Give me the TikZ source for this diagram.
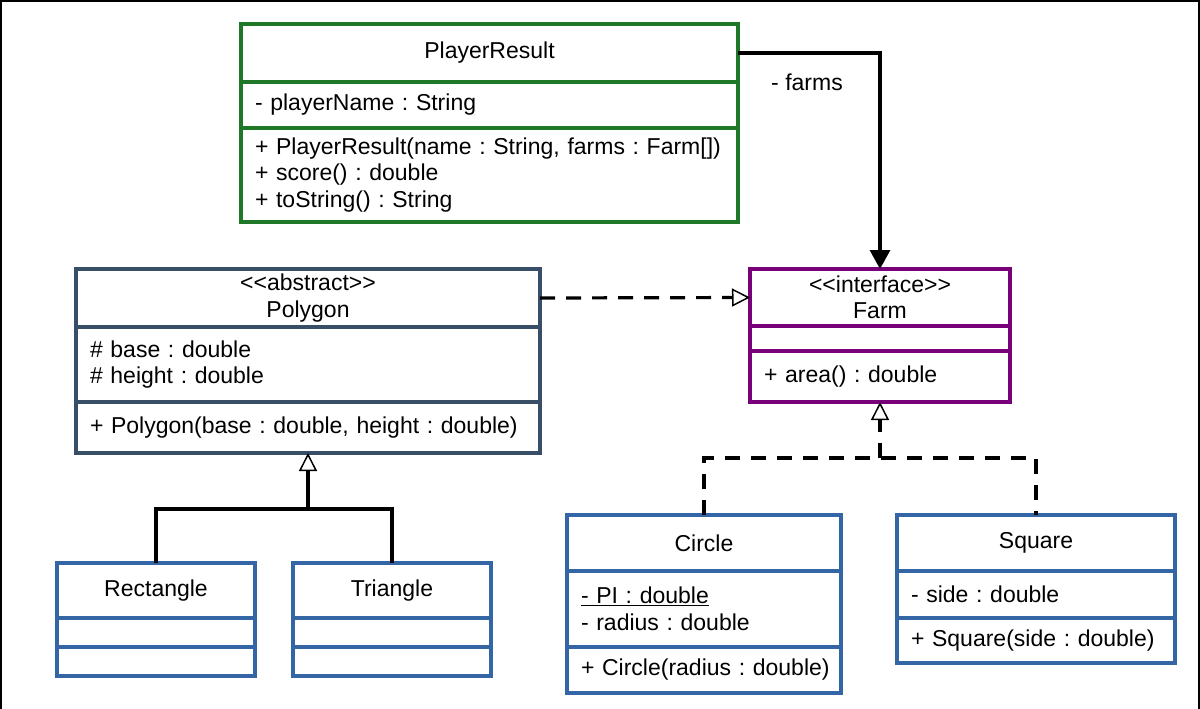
\documentclass[tikz,border=0pt]{standalone}
\usepackage{fontspec}
\setmainfont{Liberation Sans}[Ligatures=TeXOff]
\usetikzlibrary{positioning,arrows.meta}

\definecolor{resgreen}{RGB}{30,120,40}
\definecolor{polyslate}{RGB}{55,78,102}
\definecolor{farmpurple}{RGB}{120,0,120}
\definecolor{shapeblue}{RGB}{52,101,164}

\newcommand{\umlfont}{\fontsize{23}{26.5}\selectfont\frenchspacing}

\tikzset{
  compart/.style 2 args={draw, line width=3.5pt, outer sep=0pt, inner xsep=14pt, inner ysep=0pt,
    text width=#1, minimum height=#2, align=left, font=\umlfont},
  headcompart/.style 2 args={compart={#1}{#2}, align=center},
  umlline/.style={line width=3.2pt},
  dashline/.style={umlline, dash pattern=on 15pt off 11pt},
  assoc/.style={umlline, -{Triangle[length=19pt, width=20pt]}},
  realize/.style={dashline, -{Triangle[open, length=18pt, width=18pt, line width=1.5pt 0]}},
  gen/.style={umlline, -{Triangle[open, length=18pt, width=18pt, line width=1.5pt 0]}},
}

\begin{document}
\begin{tikzpicture}[x=1pt, y=-1pt]

\useasboundingbox (0,0) rectangle (1200,709);
\draw[line width=1.5pt] (1,709) -- (1,1) -- (1199,1) -- (1199,709);

% PlayerResult
\node[headcompart={469pt}{58pt}, draw=resgreen, anchor=north west] (prhead) at (241,24) {PlayerResult};
\node[compart={469pt}{46pt}, draw=resgreen, below=0pt of prhead] (prattr) {- playerName : String};
\node[compart={469pt}{94pt}, draw=resgreen, below=0pt of prattr] (props)
  {\mbox{+ PlayerResult(name : String, farms : Farm[])}\\+ score() : double\\+ toString() : String};

% Polygon
\node[headcompart={436pt}{58pt}, draw=polyslate, anchor=north west] (polyhead) at (76,269) {<<abstract>>\\Polygon};
\node[compart={436pt}{75pt}, draw=polyslate, below=0pt of polyhead] (polyattr) {\# base : double\\\# height : double};
\node[compart={436pt}{51pt}, draw=polyslate, below=0pt of polyattr] (polyops) {\mbox{+ Polygon(base : double, height : double)}};

% Farm
\node[headcompart={232pt}{57pt}, draw=farmpurple, anchor=north west] (farmhead) at (750,269) {<<interface>>\\Farm};
\node[compart={232pt}{25pt}, draw=farmpurple, below=0pt of farmhead] (farmattr) {};
\node[compart={232pt}{51pt}, draw=farmpurple, below=0pt of farmattr] (farmops) {+ area() : double};

% Rectangle and Triangle
\node[headcompart={170pt}{55pt}, draw=shapeblue, anchor=north west] (recthead) at (57,563) {Rectangle};
\node[compart={170pt}{29pt}, draw=shapeblue, below=0pt of recthead] (rectattr) {};
\node[compart={170pt}{29pt}, draw=shapeblue, below=0pt of rectattr] (rectops) {};

\node[headcompart={170pt}{55pt}, draw=shapeblue, anchor=north west] (trihead) at (293,563) {Triangle};
\node[compart={170pt}{29pt}, draw=shapeblue, below=0pt of trihead] (triattr) {};
\node[compart={170pt}{29pt}, draw=shapeblue, below=0pt of triattr] (triops) {};

% Circle and Square
\node[headcompart={246pt}{56pt}, draw=shapeblue, anchor=north west] (circhead) at (567,515) {Circle};
\node[compart={246pt}{76pt}, draw=shapeblue, below=0pt of circhead] (circattr) {\underline{- PI : double}\\- radius : double};
\node[compart={246pt}{46pt}, draw=shapeblue, below=0pt of circattr] (circops) {\mbox{+ Circle(radius : double)}};

\node[headcompart={250pt}{56pt}, draw=shapeblue, anchor=north west] (sqhead) at (897,515) {Square};
\node[compart={250pt}{47pt}, draw=shapeblue, below=0pt of sqhead] (sqattr) {- side : double};
\node[compart={250pt}{45pt}, draw=shapeblue, below=0pt of sqattr] (sqops) {\mbox{+ Square(side : double)}};

% -------- Connectors -----------
\draw[assoc] (prhead.east) -| (farmhead.north);
\node[font=\umlfont] (farmslabel) at (807,82) {- farms};

\draw[realize] (polyhead.east) -- (farmhead.west);

\coordinate (genjoin) at (308,509);
\draw[umlline] (recthead.north) |- (genjoin) -| (trihead.north);
\draw[gen] (genjoin) -- (polyops.south);

\coordinate (realjoin) at (880,458);
\draw[dashline] (circhead.north) |- (realjoin) -| (sqhead.north);
\draw[realize] (realjoin) -- (farmops.south);

\end{tikzpicture}
\end{document}
